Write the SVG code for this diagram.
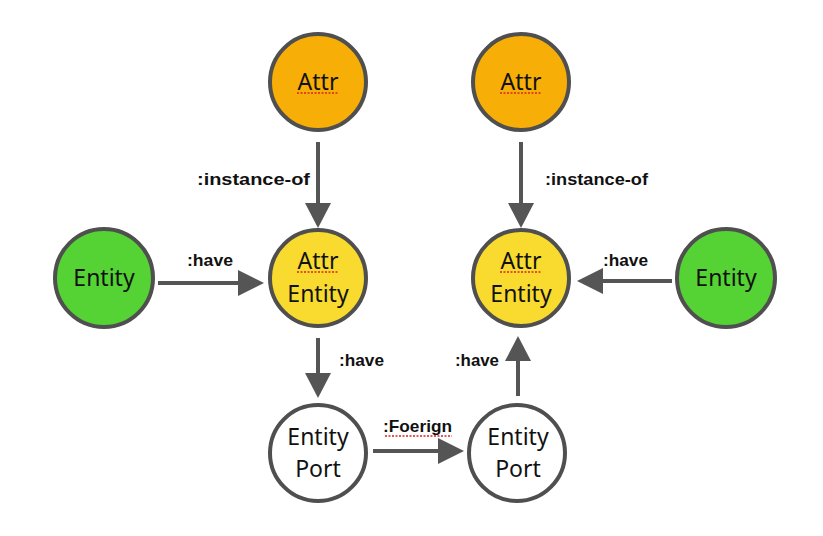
<svg xmlns="http://www.w3.org/2000/svg" width="823" height="536" viewBox="0 0 823 536">
<style>
.n{stroke:#4f4f4f;stroke-width:4}
.attr{fill:#f7ae07}
.ae{fill:#f9db2f}
.ent{fill:#55d234}
.port{fill:#ffffff}
.t{font-family:"Noto Sans","Open Sans",sans-serif;font-size:23px;fill:#111;text-anchor:middle}
.l{font-family:"Liberation Sans",Arial,sans-serif;font-size:17px;font-weight:bold;fill:#111}
.e{stroke:#555;stroke-width:4;fill:none}
.h{fill:#555}
.sp{stroke:#e02020;stroke-width:1.5;stroke-dasharray:2 1.5;fill:none}
</style>
<rect width="823" height="536" fill="#ffffff"/>
<g id="edges">
<line class="e" x1="318" y1="142" x2="318" y2="204"/>
<polygon class="h" points="305,203 331,203 318,228"/>
<line class="e" x1="521" y1="142" x2="521" y2="204"/>
<polygon class="h" points="508,203 534,203 521,228"/>
<line class="e" x1="158" y1="283" x2="240" y2="283"/>
<polygon class="h" points="238,270 238,296 264,283"/>
<line class="e" x1="672" y1="281" x2="600" y2="281"/>
<polygon class="h" points="603,268 603,294 577,281"/>
<line class="e" x1="318" y1="338" x2="318" y2="374"/>
<polygon class="h" points="305,373 331,373 318,398"/>
<line class="e" x1="518" y1="396" x2="518" y2="360"/>
<polygon class="h" points="505,361 531,361 518,336"/>
<line class="e" x1="373" y1="451" x2="440" y2="451"/>
<polygon class="h" points="438,438 438,464 464,451"/>
<text class="l" x="197" y="185" textLength="113" lengthAdjust="spacingAndGlyphs">:instance-of</text>
<text class="l" x="545" y="185" textLength="103" lengthAdjust="spacingAndGlyphs">:instance-of</text>
<text class="l" x="187" y="266" textLength="46" lengthAdjust="spacingAndGlyphs">:have</text>
<text class="l" x="603" y="266" textLength="45" lengthAdjust="spacingAndGlyphs">:have</text>
<text class="l" x="339" y="366" textLength="45" lengthAdjust="spacingAndGlyphs">:have</text>
<text class="l" x="455" y="366" textLength="44" lengthAdjust="spacingAndGlyphs">:have</text>
<text class="l" x="383" y="432" textLength="69" lengthAdjust="spacingAndGlyphs">:Foerign</text>
<line class="sp" x1="385" y1="436" x2="452" y2="436"/>
</g>
<g id="attr1">
<circle class="n attr" cx="318" cy="82" r="48"/>
<text class="t" x="318" y="90">Attr</text>
<line class="sp" x1="297" y1="93" x2="339" y2="93"/>
</g>
<g id="attr2">
<circle class="n attr" cx="521" cy="82" r="48"/>
<text class="t" x="521" y="90">Attr</text>
<line class="sp" x1="500" y1="93" x2="542" y2="93"/>
</g>
<g id="attrEntity1">
<circle class="n ae" cx="318" cy="278" r="48"/>
<text class="t" x="318" y="269">Attr</text>
<line class="sp" x1="297" y1="272" x2="339" y2="272"/>
<text class="t" x="318" y="302">Entity</text>
</g>
<g id="attrEntity2">
<circle class="n ae" cx="521" cy="278" r="48"/>
<text class="t" x="521" y="269">Attr</text>
<line class="sp" x1="500" y1="272" x2="542" y2="272"/>
<text class="t" x="521" y="302">Entity</text>
</g>
<g id="entity1">
<circle class="n ent" cx="104" cy="278" r="49"/>
<text class="t" x="104" y="286">Entity</text>
</g>
<g id="entity2">
<circle class="n ent" cx="726" cy="278" r="49"/>
<text class="t" x="726" y="286">Entity</text>
</g>
<g id="port1">
<circle class="n port" cx="318" cy="453" r="48"/>
<text class="t" x="318" y="445">Entity</text>
<text class="t" x="318" y="477">Port</text>
</g>
<g id="port2">
<circle class="n port" cx="517" cy="453" r="48"/>
<text class="t" x="518" y="445">Entity</text>
<text class="t" x="518" y="477">Port</text>
</g>
</svg>
